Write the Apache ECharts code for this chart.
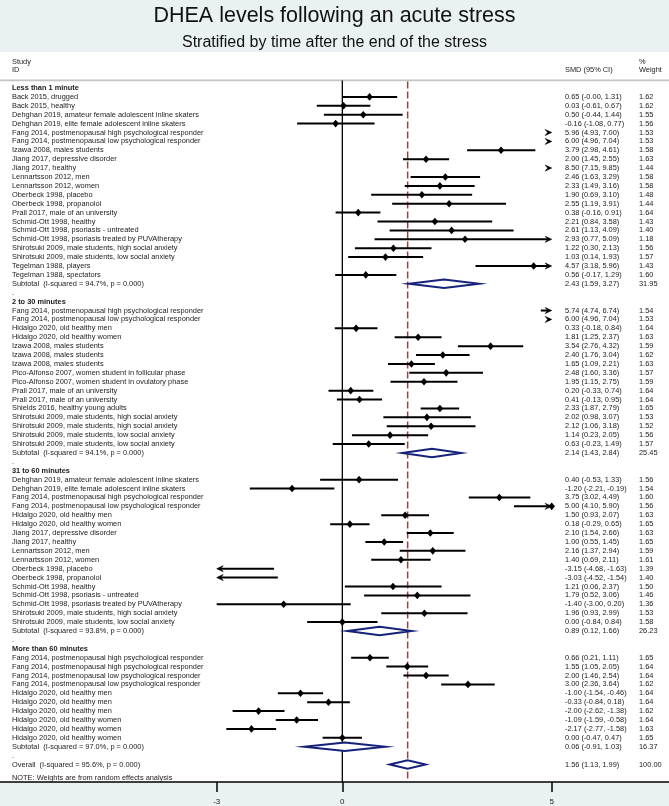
<!DOCTYPE html>
<html><head><meta charset="utf-8">
<script src="https://cdn.jsdelivr.net/npm/echarts@6/dist/echarts.min.js"></script>
<style>html,body{margin:0;padding:0;background:#EAF1F3}#c{width:669px;height:806px}</style>
</head><body><div id="c"></div>
<script>
// ---------------- DATA ----------------
const groupTitles = ['Less than 1 minute', '2 to 30 minutes', '31 to 60 minutes', 'More than 60 minutes'];

const g1Names = ['Back 2015, drugged','Back 2015, healthy','Dehghan 2019, amateur female adolescent inline skaters','Dehghan 2019, elite female adolescent inline skaters','Fang 2014, postmenopausal high psychological responder','Fang 2014, postmenopausal low psychological responder','Izawa 2008, males students','Jiang 2017, depressive disorder','Jiang 2017, healthy','Lennartsson 2012, men','Lennartsson 2012, women','Oberbeck 1998, placebo','Oberbeck 1998, propanolol','Prall 2017, male of an university','Schmid-Ott 1998, healthy','Schmid-Ott 1998, psoriasis - untreated','Schmid-Ott 1998, psoriasis treated by PUVAtherapy','Shirotsuki 2009, male students, high social anxiety','Shirotsuki 2009, male students, low social anxiety','Tegelman 1988, players','Tegelman 1988, spectators'];
const g1Smd = [0.65,0.03,0.50,-0.16,5.96,6.00,3.79,2.00,8.50,2.46,2.33,1.90,2.55,0.38,2.21,2.61,2.93,1.22,1.03,4.57,0.56];
const g1Lo  = [-0.004,-0.61,-0.44,-1.08,4.93,4.96,2.98,1.45,7.15,1.63,1.49,0.69,1.19,-0.16,0.84,1.13,0.77,0.30,0.14,3.18,-0.17];
const g1Hi  = [1.31,0.67,1.44,0.77,7.00,7.04,4.61,2.55,9.85,3.29,3.16,3.10,3.91,0.91,3.58,4.09,5.09,2.13,1.93,5.96,1.29];
const g1Wt  = [1.62,1.62,1.55,1.56,1.53,1.53,1.58,1.63,1.44,1.58,1.58,1.48,1.44,1.64,1.43,1.40,1.18,1.56,1.57,1.43,1.60];

const g2Names = ['Fang 2014, postmenopausal high psychological responder','Fang 2014, postmenopausal low psychological responder','Hidalgo 2020, old healthy men','Hidalgo 2020, old healthy women','Izawa 2008, males students','Izawa 2008, males students','Izawa 2008, males students','Pico-Alfonso 2007, women student in follicular phase','Pico-Alfonso 2007, women student in ovulatory phase','Prall 2017, male of an university','Prall 2017, male of an university','Shields 2016, healthy young adults','Shirotsuki 2009, male students, high social anxiety','Shirotsuki 2009, male students, high social anxiety','Shirotsuki 2009, male students, low social anxiety','Shirotsuki 2009, male students, low social anxiety'];
const g2Smd = [5.74,6.00,0.33,1.81,3.54,2.40,1.65,2.48,1.95,0.20,0.41,2.33,2.02,2.12,1.14,0.63];
const g2Lo  = [4.74,4.96,-0.18,1.25,2.76,1.76,1.09,1.60,1.15,-0.33,-0.13,1.87,0.98,1.06,0.23,-0.23];
const g2Hi  = [6.74,7.04,0.84,2.37,4.32,3.04,2.21,3.36,2.75,0.74,0.95,2.79,3.07,3.18,2.05,1.49];
const g2Wt  = [1.54,1.53,1.64,1.63,1.59,1.62,1.63,1.57,1.59,1.64,1.64,1.65,1.53,1.52,1.56,1.57];

const g3Names = ['Dehghan 2019, amateur female adolescent inline skaters','Dehghan 2019, elite female adolescent inline skaters','Fang 2014, postmenopausal high psychological responder','Fang 2014, postmenopausal low psychological responder','Hidalgo 2020, old healthy men','Hidalgo 2020, old healthy women','Jiang 2017, depressive disorder','Jiang 2017, healthy','Lennartsson 2012, men','Lennartsson 2012, women','Oberbeck 1998, placebo','Oberbeck 1998, propanolol','Schmid-Ott 1998, healthy','Schmid-Ott 1998, psoriasis - untreated','Schmid-Ott 1998, psoriasis treated by PUVAtherapy','Shirotsuki 2009, male students, high social anxiety','Shirotsuki 2009, male students, low social anxiety'];
const g3Smd = [0.40,-1.20,3.75,5.00,1.50,0.18,2.10,1.00,2.16,1.40,-3.15,-3.03,1.21,1.79,-1.40,1.96,0.00];
const g3Lo  = [-0.53,-2.21,3.02,4.10,0.93,-0.29,1.54,0.55,1.37,0.69,-4.68,-4.52,0.06,0.52,-3.00,0.93,-0.84];
const g3Hi  = [1.33,-0.19,4.49,5.90,2.07,0.65,2.66,1.45,2.94,2.11,-1.63,-1.54,2.37,3.06,0.20,2.99,0.84];
const g3Wt  = [1.56,1.54,1.60,1.56,1.63,1.65,1.63,1.65,1.59,1.61,1.39,1.40,1.50,1.46,1.36,1.53,1.58];

const g4Names = ['Fang 2014, postmenopausal high psychological responder','Fang 2014, postmenopausal high psychological responder','Fang 2014, postmenopausal low psychological responder','Fang 2014, postmenopausal low psychological responder','Hidalgo 2020, old healthy men','Hidalgo 2020, old healthy men','Hidalgo 2020, old healthy men','Hidalgo 2020, old healthy women','Hidalgo 2020, old healthy women','Hidalgo 2020, old healthy women'];
const g4Smd = [0.66,1.55,2.00,3.00,-1.00,-0.33,-2.00,-1.09,-2.17,0.00];
const g4Lo  = [0.21,1.05,1.46,2.36,-1.54,-0.84,-2.62,-1.59,-2.77,-0.47];
const g4Hi  = [1.11,2.05,2.54,3.64,-0.46,0.18,-1.38,-0.58,-1.58,0.47];
const g4Wt  = [1.65,1.64,1.64,1.62,1.64,1.64,1.62,1.64,1.63,1.65];

const subSmd = [2.43, 2.14, 0.89, 0.06];
const subLo  = [1.59, 1.43, 0.12, -0.91];
const subHi  = [3.27, 2.84, 1.66, 1.03];
const subWt  = [31.95, 25.45, 26.23, 16.37];
const subI2  = [94.7, 94.1, 93.8, 97.0];
const subP   = [0.000, 0.000, 0.000, 0.000];

const overallSmd = 1.56, overallLo = 1.13, overallHi = 1.99, overallWt = 100.00, overallI2 = 95.6, overallP = 0.000;
const xTicks = [-3, 0, 5];
const plotMin = -3, plotMax = 5;

// ---------------- LAYOUT ----------------
const W = 669, H = 806;
const PX_MIN = 216.7, PX_MAX = 551.7;          // pixel positions of plotMin / plotMax
const GRID_TOP = 52, AXIS_Y = 782.5;
const ROW0_Y = 88, ROW_PITCH = 8.908;
const pxPerUnit = (PX_MAX - PX_MIN) / (plotMax - plotMin);
const xMin = plotMin - PX_MIN / pxPerUnit;
const xMax = plotMax + (W - PX_MAX) / pxPerUnit;
const yMin = -(ROW0_Y - GRID_TOP) / ROW_PITCH;
const yMax = yMin + (AXIS_Y - GRID_TOP) / ROW_PITCH;
const LABEL_X = 12, SMD_X = 565, WT_X = 639;
const FONT = '"Liberation Sans", Arial, Helvetica, sans-serif';
const FS = 7.4;
const TXT = '#1a1a1a';
const NAVY = '#15227A';
const RED = '#B3343E';

const f2 = v => v.toFixed(2);
const ciText = (e, l, h) => `${f2(e)} (${f2(l)}, ${f2(h)})`;

// ---------------- ROWS ----------------
const groups = [
  [g1Names, g1Smd, g1Lo, g1Hi, g1Wt],
  [g2Names, g2Smd, g2Lo, g2Hi, g2Wt],
  [g3Names, g3Smd, g3Lo, g3Hi, g3Wt],
  [g4Names, g4Smd, g4Lo, g4Hi, g4Wt]
];
const rows = [];
rows.push({kind: 'header', row: -2.95, label: 'Study', smd: '', wt: '%'});
rows.push({kind: 'header', row: -2.05, label: 'ID', smd: 'SMD (95% CI)', wt: 'Weight'});
let r = 0;
groups.forEach((g, gi) => {
  rows.push({kind: 'head', row: r++, label: groupTitles[gi]});
  g[0].forEach((n, i) => rows.push({kind: 'study', row: r++, label: n, est: g[1][i], lo: g[2][i], hi: g[3][i], w: g[4][i]}));
  rows.push({kind: 'pool', row: r++, label: `Subtotal  (I-squared = ${subI2[gi].toFixed(1)}%, p = ${subP[gi].toFixed(3)})`,
             est: subSmd[gi], lo: subLo[gi], hi: subHi[gi], w: subWt[gi]});
  rows.push({kind: 'blank', row: r++, label: '.'});
});
rows.push({kind: 'pool', row: r, label: `Overall  (I-squared = ${overallI2.toFixed(1)}%, p = ${overallP.toFixed(3)})`,
           est: overallSmd, lo: overallLo, hi: overallHi, w: overallWt});
rows.push({kind: 'note', row: r + 1.5, label: 'NOTE: Weights are from random effects analysis'});

function txt(x, y, s, bold) {
  return {type: 'text', style: {x, y, text: s, fill: TXT, align: 'left', verticalAlign: 'middle',
          font: `${bold ? 'bold ' : ''}${FS}px ${FONT}`}};
}
function arrow(tip, y, dir) {
  const L = 6.5, hh = 3, n = 2.5;
  return {type: 'polygon', shape: {points: [[tip, y], [tip - dir * L, y - hh], [tip - dir * (L - n), y], [tip - dir * L, y + hh]]},
          style: {fill: '#000', stroke: '#000', lineWidth: 0.6}};
}

function renderRow(params, api) {
  const d = rows[params.dataIndex];
  const y = api.coord([0, d.row])[1];
  const ch = [];
  if (d.kind === 'header') {
    ch.push(txt(LABEL_X, y, d.label));
    if (d.smd) ch.push(txt(SMD_X, y, d.smd));
    ch.push(txt(WT_X, y, d.wt));
    return {type: 'group', children: ch};
  }
  ch.push(txt(LABEL_X, y, d.label, d.kind === 'head'));
  if (d.kind === 'study') {
    ch.push(txt(SMD_X, y, ciText(d.est, d.lo, d.hi)));
    ch.push(txt(WT_X, y, f2(d.w)));
    const xA = api.coord([plotMin, 0])[0], xB = api.coord([plotMax, 0])[0];
    if (d.lo > plotMax) {
      ch.push(arrow(xB, y, 1));
    } else if (d.hi < plotMin) {
      ch.push(arrow(xA, y, -1));
    } else {
      let x1 = api.coord([Math.max(d.lo, plotMin), 0])[0];
      let x2 = api.coord([Math.min(d.hi, plotMax), 0])[0];
      if (d.hi > plotMax) x2 -= 4;
      if (d.lo < plotMin) x1 += 4;
      ch.push({type: 'line', shape: {x1, y1: y, x2, y2: y}, style: {stroke: '#000', lineWidth: 2}});
      if (d.hi > plotMax) ch.push(arrow(xB, y, 1));
      if (d.lo < plotMin) ch.push(arrow(xA, y, -1));
      if (d.est >= plotMin && d.est <= plotMax) {
        const xe = api.coord([d.est, 0])[0];
        ch.push({type: 'polygon', shape: {points: [[xe, y - 3.8], [xe + 3.3, y], [xe, y + 3.8], [xe - 3.3, y]]}, style: {fill: '#000'}});
      }
    }
  } else if (d.kind === 'pool') {
    ch.push(txt(SMD_X, y, ciText(d.est, d.lo, d.hi)));
    ch.push(txt(WT_X, y, f2(d.w)));
    const xl = api.coord([d.lo, 0])[0], xe = api.coord([d.est, 0])[0], xh = api.coord([d.hi, 0])[0];
    ch.push({type: 'polygon', z2: 5, shape: {points: [[xl, y], [xe, y - 4.3], [xh, y], [xe, y + 4.3]]},
             style: {fill: '#fff', stroke: NAVY, lineWidth: 2}});
  }
  return {type: 'group', children: ch};
}

function renderRefs(params, api) {
  const top = api.coord([0, -0.85])[1];
  const bot = api.coord([0, yMax])[1];
  const x0 = api.coord([0, 0])[0];
  const xo = api.coord([overallSmd, 0])[0];
  return {type: 'group', children: [
    {type: 'line', shape: {x1: 0, y1: top, x2: api.getWidth(), y2: top}, style: {stroke: '#C4C4C4', lineWidth: 1.6}},
    {type: 'line', shape: {x1: x0, y1: top, x2: x0, y2: bot}, style: {stroke: '#000', lineWidth: 1.3}},
    {type: 'line', shape: {x1: xo, y1: top + 1, x2: xo, y2: bot}, style: {stroke: RED, lineWidth: 1.5, lineDash: [7, 3]}}
  ]};
}

const chart = echarts.init(document.getElementById('c'), null, {renderer: 'canvas'});
chart.setOption({
  backgroundColor: '#EAF1F3',
  animation: false,
  title: [
    {text: 'DHEA levels following an acute stress', left: 'center', top: 0,
     textStyle: {fontFamily: FONT, fontSize: 21.5, fontWeight: 'normal', color: '#111'}},
    {text: 'Stratified by time after the end of the stress', left: 'center', top: 30,
     textStyle: {fontFamily: FONT, fontSize: 16, fontWeight: 'normal', color: '#111'}}
  ],
  grid: {left: 0, right: 0, top: GRID_TOP, bottom: H - AXIS_Y, show: true, backgroundColor: '#fff', borderWidth: 0},
  xAxis: {
    type: 'value', min: xMin, max: xMax, position: 'bottom',
    axisLine: {show: true, onZero: false, lineStyle: {color: '#000', width: 1.5}},
    axisTick: {show: true, customValues: xTicks, length: 10, lineStyle: {color: '#000', width: 1.5}},
    axisLabel: {show: true, customValues: xTicks, fontSize: 8, fontFamily: FONT, color: '#222', margin: 16},
    splitLine: {show: false}
  },
  yAxis: {type: 'value', inverse: true, min: yMin, max: yMax, show: false},
  series: [
    {type: 'custom', data: [[0]], renderItem: renderRefs, silent: true, z: 1},
    {type: 'custom', data: rows.map((d, i) => [i]), renderItem: renderRow, silent: true, z: 2}
  ]
});
</script></body></html>
